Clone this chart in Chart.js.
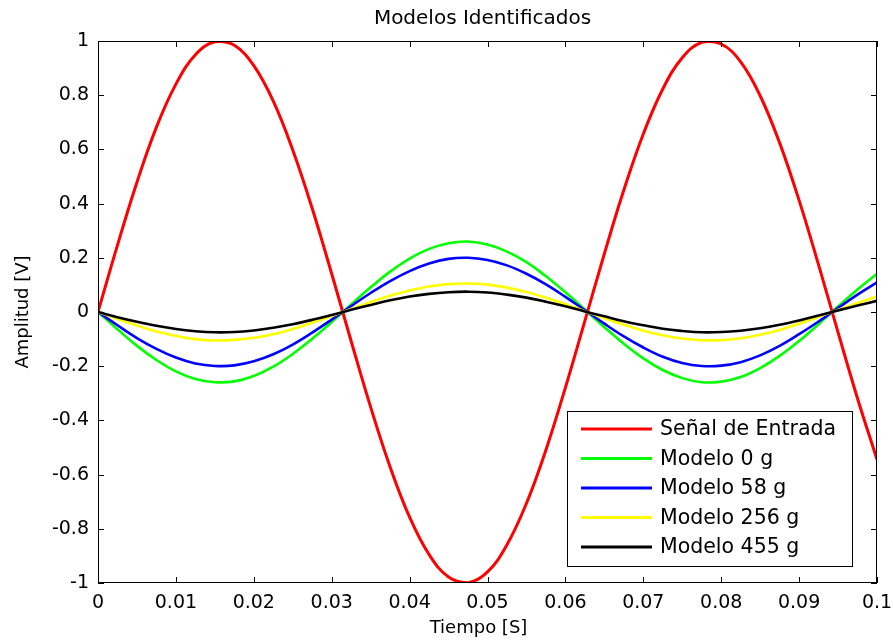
<!DOCTYPE html>
<html>
<head>
<meta charset="utf-8">
<script src="https://cdn.jsdelivr.net/npm/chart.js@4.4.1/dist/chart.umd.min.js"></script>
<style>
  body { margin: 0; background: #fff; }
</style>
</head>
<body>
<canvas id="grafica" width="893" height="642"></canvas>
<script>
// valores (paso de 0.0025 s)
const tiempo = [0, 0.0025, 0.005, 0.0075, 0.01, 0.0125, 0.015, 0.0175, 0.02, 0.0225,
  0.025, 0.0275, 0.03, 0.0325, 0.035, 0.0375, 0.04, 0.0425, 0.045, 0.0475,
  0.05, 0.0525, 0.055, 0.0575, 0.06, 0.0625, 0.065, 0.0675, 0.07, 0.0725,
  0.075, 0.0775, 0.08, 0.0825, 0.085, 0.0875, 0.09, 0.0925, 0.095, 0.0975, 0.1];

const entrada = [0, 0.247, 0.479, 0.682, 0.841, 0.949, 0.997, 0.984, 0.909, 0.778,
  0.598, 0.382, 0.141, -0.108, -0.351, -0.572, -0.757, -0.895, -0.978, -0.999,
  -0.959, -0.859, -0.706, -0.509, -0.279, -0.033, 0.215, 0.450, 0.657, 0.823,
  0.938, 0.995, 0.989, 0.923, 0.798, 0.624, 0.412, 0.174, -0.075, -0.319, -0.544];

const modelo0 = [0, -0.064, -0.125, -0.177, -0.219, -0.247, -0.259, -0.256, -0.236, -0.202,
  -0.155, -0.099, -0.037, 0.028, 0.091, 0.149, 0.197, 0.233, 0.254, 0.260,
  0.249, 0.223, 0.184, 0.132, 0.073, 0.009, -0.056, -0.117, -0.171, -0.214,
  -0.244, -0.259, -0.257, -0.240, -0.207, -0.162, -0.107, -0.045, 0.020, 0.083, 0.141];

const modelo58 = [0, -0.049, -0.096, -0.136, -0.168, -0.190, -0.199, -0.197, -0.182, -0.156,
  -0.120, -0.076, -0.028, 0.022, 0.070, 0.114, 0.151, 0.179, 0.196, 0.200,
  0.192, 0.172, 0.141, 0.102, 0.056, 0.007, -0.043, -0.090, -0.131, -0.165,
  -0.188, -0.199, -0.198, -0.185, -0.160, -0.125, -0.082, -0.035, 0.015, 0.064, 0.109];

const modelo256 = [0, -0.026, -0.050, -0.072, -0.088, -0.100, -0.105, -0.103, -0.095, -0.082,
  -0.063, -0.040, -0.015, 0.011, 0.037, 0.060, 0.079, 0.094, 0.103, 0.105,
  0.101, 0.090, 0.074, 0.053, 0.029, 0.003, -0.023, -0.047, -0.069, -0.086,
  -0.098, -0.104, -0.104, -0.097, -0.084, -0.066, -0.043, -0.018, 0.008, 0.033, 0.057];

const modelo455 = [0, -0.019, -0.036, -0.051, -0.063, -0.071, -0.075, -0.074, -0.068, -0.058,
  -0.045, -0.029, -0.011, 0.008, 0.026, 0.043, 0.057, 0.067, 0.073, 0.075,
  0.072, 0.064, 0.053, 0.038, 0.021, 0.002, -0.016, -0.034, -0.049, -0.062,
  -0.070, -0.075, -0.074, -0.069, -0.060, -0.047, -0.031, -0.013, 0.006, 0.024, 0.041];

const nombres = ["Señal de Entrada", "Modelo 0 g", "Modelo 58 g", "Modelo 256 g", "Modelo 455 g"];
const colores = ["#ff0000", "#00ff00", "#0000ff", "#ffff00", "#000000"];
const series = [entrada, modelo0, modelo58, modelo256, modelo455];

const titulo = "Modelos Identificados";
const tituloX = "Tiempo [S]";
const tituloY = "Amplitud [V]";

const fuente = "'DejaVu Sans', sans-serif";

function puntos(valores) {
  return valores.map((v, i) => ({ x: tiempo[i], y: v }));
}

// marco, marcas interiores, leyenda y titulos al estilo matlab
const marco = {
  id: "marco",
  afterDraw(chart) {
    const { ctx, chartArea: a, scales } = chart;
    const x = scales.x, y = scales.y;
    ctx.save();
    ctx.strokeStyle = "#000";
    ctx.lineWidth = 1;
    ctx.strokeRect(a.left + 0.5, a.top + 0.5, a.width - 1, a.height - 1);
    ctx.beginPath();
    x.ticks.forEach(t => {
      const px = Math.round(x.getPixelForValue(t.value)) + 0.5;
      ctx.moveTo(px, a.bottom); ctx.lineTo(px, a.bottom - 6);
      ctx.moveTo(px, a.top); ctx.lineTo(px, a.top + 6);
    });
    y.ticks.forEach(t => {
      const py = Math.round(y.getPixelForValue(t.value)) + 0.5;
      ctx.moveTo(a.left, py); ctx.lineTo(a.left + 6, py);
      ctx.moveTo(a.right, py); ctx.lineTo(a.right - 6, py);
    });
    ctx.stroke();

    // leyenda
    const ancho = 285, alto = 155;
    const lx = a.right - 25 - ancho, ly = a.bottom - 17 - alto;
    ctx.fillStyle = "#fff";
    ctx.fillRect(lx, ly, ancho, alto);
    ctx.strokeRect(lx + 0.5, ly + 0.5, ancho, alto);
    ctx.font = "20.5px " + fuente;
    ctx.textBaseline = "middle";
    ctx.textAlign = "left";
    chart.data.datasets.forEach((ds, i) => {
      const fy = ly + 18 + i * 29.5;
      ctx.strokeStyle = ds.borderColor;
      ctx.lineWidth = 3;
      ctx.beginPath();
      ctx.moveTo(lx + 14, fy); ctx.lineTo(lx + 85, fy);
      ctx.stroke();
      ctx.fillStyle = "#000";
      ctx.fillText(ds.label, lx + 93, fy + 1);
    });

    // titulos
    ctx.fillStyle = "#000";
    ctx.textAlign = "center";
    ctx.font = "20px " + fuente;
    ctx.fillText(titulo, (a.left + a.right) / 2 - 5, 19);
    ctx.font = "18px " + fuente;
    ctx.fillText(tituloX, (a.left + a.right) / 2 - 9, 628);
    ctx.translate(23, (a.top + a.bottom) / 2);
    ctx.rotate(-Math.PI / 2);
    ctx.fillText(tituloY, 0, 0);
    ctx.restore();
  }
};

const chart = new Chart(document.getElementById("grafica"), {
  type: "line",
  data: {
    datasets: series.map((s, i) => ({
      label: nombres[i],
      data: puntos(s),
      borderColor: colores[i],
      backgroundColor: colores[i],
      borderWidth: i === 0 ? 3 : 2.6,
      pointRadius: 0,
      tension: 0.4,
      fill: false,
      order: series.length - i,
    })),
  },
  plugins: [marco],
  options: {
    responsive: false,
    animation: false,
    layout: { padding: { top: 41, right: 16, left: 0, bottom: 0 } },
    plugins: {
      legend: { display: false },
      tooltip: { enabled: false },
      title: { display: false },
    },
    scales: {
      x: {
        type: "linear",
        min: 0,
        max: 0.1,
        offset: false,
        grid: { display: false, drawTicks: false },
        border: { display: false },
        afterFit: (s) => { s.height = 59; s.paddingRight = 0; s.paddingLeft = 0; },
        ticks: {
          stepSize: 0.01,
          padding: 9,
          color: "#000",
          font: { family: fuente, size: 19 },
          maxRotation: 0,
          autoSkip: false,
          callback: (v) => String(parseFloat(v.toFixed(2))),
        },
      },
      y: {
        min: -1,
        max: 1,
        grid: { display: false, drawTicks: false },
        border: { display: false },
        afterFit: (s) => { s.width = 98; s.paddingTop = 0; s.paddingBottom = 0; },
        ticks: {
          stepSize: 0.2,
          padding: 9,
          color: "#000",
          font: { family: fuente, size: 19 },
          autoSkip: false,
          callback: (v) => String(parseFloat(v.toFixed(1))),
        },
      },
    },
  },
});
</script>
</body>
</html>
